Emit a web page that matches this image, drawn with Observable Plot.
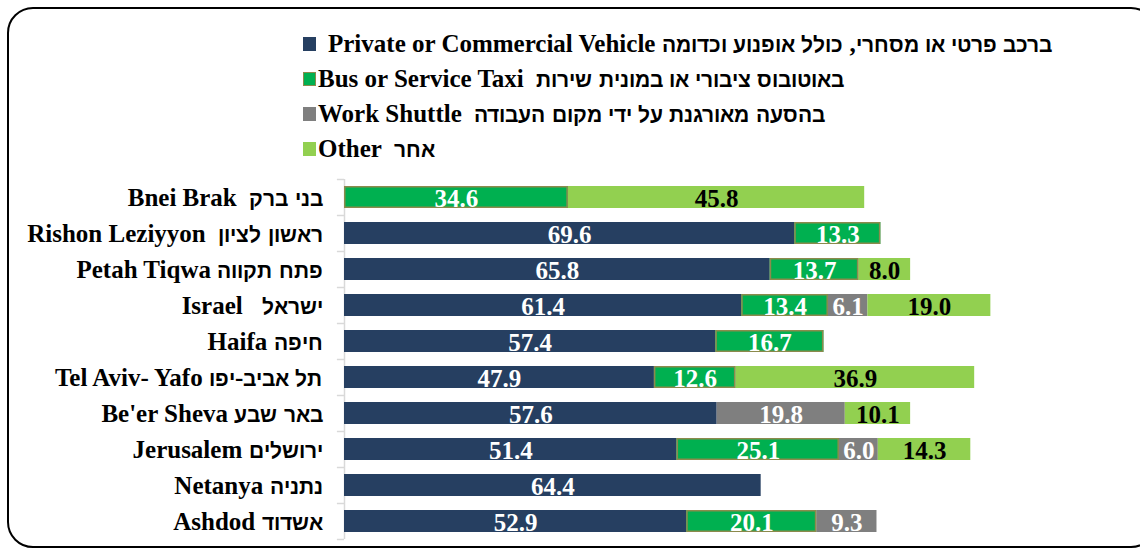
<!DOCTYPE html>
<html>
<head>
<meta charset="utf-8">
<script src="https://cdn.jsdelivr.net/npm/d3@7"></script>
<script src="https://cdn.jsdelivr.net/npm/@observablehq/plot@0.6"></script>
<style>
  @font-face { font-family: "HebA"; font-weight: 100 900; src: local("Liberation Sans Bold"), local("LiberationSans-Bold"); unicode-range: U+0590-05FF; size-adjust: 82%; }
  @font-face { font-family: "HebB"; font-weight: 100 900; src: local("DejaVu Sans Bold"), local("DejaVuSans-Bold"); unicode-range: U+0590-05FF; size-adjust: 82%; }
  html, body { margin: 0; padding: 0; background: #fff; }
  body { width: 1140px; height: 550px; position: relative; overflow: hidden;
         font-family: 'HebA', 'HebB', 'Liberation Serif', serif; font-weight: bold; }
  #frame { position: absolute; left: 7px; top: 7px; width: 1150px; height: 541px; box-sizing: border-box;
           border: 2px solid #000; border-radius: 26px; pointer-events: none; z-index: 3; }
  #legend { position: absolute; left: 303px; top: 26px; z-index: 2; }
  .lg { height: 35px; line-height: 35px; font-size: 25px; white-space: pre; display: flex; align-items: center; color: #000; }
  .sw { display: inline-block; width: 13px; height: 14px; box-sizing: border-box; margin-right: 2px; }
  #chart { position: absolute; left: 0; top: 150px; z-index: 1; }
</style>
</head>
<body>
<div id="legend"></div>
<div id="chart"></div>
<div id="frame"></div>
<script>
const cities = [
  "Bnei Brak  בני ברק",
  "Rishon Leziyyon  ראשון לציון",
  "Petah Tiqwa פתח תקווה",
  "Israel   ישראל",
  "Haifa חיפה",
  "Tel Aviv- Yafo תל אביב-יפו",
  "Be'er Sheva באר שבע",
  "Jerusalem ירושלים",
  "Netanya נתניה",
  "Ashdod אשדוד"
];
const modes = ["Private", "Bus", "Shuttle", "Other"];
const modeLabels = [
  "Private or Commercial Vehicle ברכב פרטי או מסחרי, כולל אופנוע וכדומה",
  "Bus or Service Taxi  באוטובוס ציבורי או במונית שירות",
  "Work Shuttle  בהסעה מאורגנת על ידי מקום העבודה",
  "Other  אחר"
];
const privateVehicle = [0, 69.6, 65.8, 61.4, 57.4, 47.9, 57.6, 51.4, 64.4, 52.9];
const busTaxi        = [34.6, 13.3, 13.7, 13.4, 16.7, 12.6, 0, 25.1, 0, 20.1];
const workShuttle    = [0, 0, 0, 6.1, 0, 0, 19.8, 6.0, 0, 9.3];
const other          = [45.8, 0, 8.0, 19.0, 0, 36.9, 10.1, 14.3, 0, 0];

const colors = ["#263f61", "#00b050", "#7f7f7f", "#92d050"];
const busOutline = "#8c8a4c";

const series = [privateVehicle, busTaxi, workShuttle, other];
const rows = [];
cities.forEach((city, i) => {
  let acc = 0;
  series.forEach((s, m) => {
    const v = s[i];
    if (v > 0) {
      rows.push({city, mode: modes[m], value: v, x1: acc, x2: acc + v});
      acc += v;
    }
  });
});

// legend
const legend = document.getElementById("legend");
modeLabels.forEach((t, m) => {
  const row = document.createElement("div");
  row.className = "lg";
  const sw = document.createElement("span");
  sw.className = "sw";
  sw.style.background = colors[m];
  if (m === 1) sw.style.border = "1.5px solid " + busOutline;
  if (m === 0) sw.style.marginRight = "12px";
  const tx = document.createElement("span");
  tx.textContent = t;
  row.appendChild(sw); row.appendChild(tx);
  legend.appendChild(row);
});

const fontFamily = "'HebA', 'HebB', 'Liberation Serif', serif";
const chart = Plot.plot({
  width: 1140,
  height: 400,
  marginLeft: 344,
  marginRight: 149,
  marginTop: 29,
  marginBottom: 11,
  style: {fontFamily, fontWeight: "bold", fontSize: "25px", background: "transparent", overflow: "visible"},
  x: {domain: [0, 100], axis: null},
  y: {domain: cities, paddingInner: 0.4, paddingOuter: 0.2, axis: null},
  color: {domain: modes, range: colors},
  marks: [
    Plot.ruleX([0], {stroke: "#d9d9d9", strokeWidth: 1.5}),
    Plot.ruleY(cities, {y: d => d, x1: -1.1, x2: 0, dy: -18, stroke: "#d9d9d9", strokeWidth: 1.5}),
    Plot.ruleY(cities.slice(-1), {y: d => d, x1: -1.1, x2: 0, dy: 18, stroke: "#d9d9d9", strokeWidth: 1.5}),
    Plot.barX(rows, {x1: "x1", x2: "x2", y: "city", fill: "mode"}),
    Plot.barX(rows.filter(d => d.mode === "Bus"), {x1: "x1", x2: "x2", y: "city", fill: "none", stroke: busOutline, strokeWidth: 1.5, inset: 0.75}),
    Plot.axisY({tickSize: 0, tickPadding: 22, fontSize: 25, fontWeight: "bold", fontFamily, fill: "#000", label: null}),
    Plot.text(rows.filter(d => d.mode !== "Other"), {x: d => (d.x1 + d.x2) / 2, y: "city", text: d => d.value.toFixed(1), fill: "#ffffff", fontSize: 25, fontWeight: "bold", dy: 1}),
    Plot.text(rows.filter(d => d.mode === "Other"), {x: d => (d.x1 + d.x2) / 2, y: "city", text: d => d.value.toFixed(1), fill: "#000000", fontSize: 25, fontWeight: "bold", dy: 1})
  ]
});
document.getElementById("chart").appendChild(chart);
</script>
</body>
</html>
